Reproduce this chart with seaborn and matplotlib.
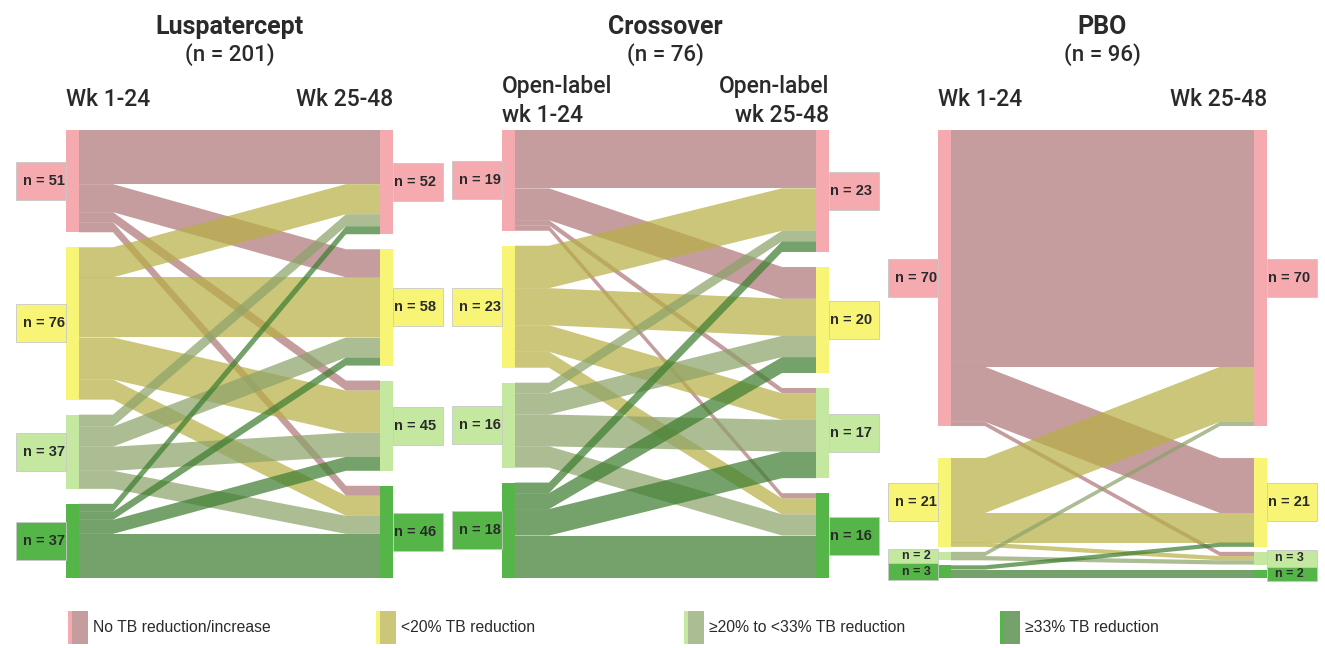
import numpy as np
import matplotlib
matplotlib.use("Agg")
import matplotlib.pyplot as plt
from matplotlib.patches import Polygon, Rectangle
import seaborn as sns

# ---------------- data ----------------
categories = ["No TB reduction/increase", "<20% TB reduction",
              "\u226520% to <33% TB reduction", "\u226533% TB reduction"]
group_names = ["Luspatercept", "Crossover", "PBO"]
left_labels = [["Wk 1-24"], ["Open-label", "wk 1-24"], ["Wk 1-24"]]
right_labels = [["Wk 25-48"], ["Open-label", "wk 25-48"], ["Wk 25-48"]]

# transition counts: rows = category in weeks 1-24, columns = category in weeks 25-48
lusp_flows = [[27, 14, 5, 5],
              [15, 30, 21, 10],
              [6, 10, 12, 9],
              [4, 4, 7, 22]]
cross_flows = [[11, 6, 1, 1],
               [8, 7, 5, 3],
               [2, 4, 6, 4],
               [2, 3, 5, 8]]
pbo_flows = [[56, 13, 1, 0],
             [13, 7, 1, 0],
             [1, 0, 1, 0],
             [0, 1, 0, 2]]
all_flows = [lusp_flows, cross_flows, pbo_flows]

# ---------------- style ----------------
sns.set_theme(style="white")
plt.rcParams["font.family"] = ["Liberation Sans", "DejaVu Sans"]
head_font = ["Roboto", "Liberation Sans", "DejaVu Sans"]

strip_colors = ["#F5AAAF", "#F8F576", "#C4E8A0", "#55B548"]
flow_colors = ["#B0777A", "#B7B045", "#8DA269", "#3E7E30"]
flow_alpha = 0.72
text_color = "#2a2a2a"

W, H = 1325, 648
fig = plt.figure(figsize=(W / 100, H / 100), dpi=100)
fig.patch.set_facecolor("white")

top_px, bot_px = 130, 578
strip_w = 13
box_w = 50
bend = 34
layout = [dict(x0=66, x1=393, gaps=[15, 15, 15]),
          dict(x0=502, x1=829, gaps=[15, 15, 15]),
          dict(x0=938, x1=1267, gaps=[32, 5, 5])]


def fx(px):
    return px / W


def fy(py):
    return 1 - py / H


for p, (flows, lay) in enumerate(zip(all_flows, layout)):
    F = np.array(flows, dtype=float)
    left_tot = F.sum(axis=1)
    right_tot = F.sum(axis=0)
    N = F.sum()
    x0, x1, gaps = lay["x0"], lay["x1"], lay["gaps"]
    avail = (bot_px - top_px) - sum(gaps)
    upp = N / avail  # patient units per pixel
    gaps_u = [g * upp for g in gaps]
    pad = 20
    ax_l, ax_r = x0 - box_w - 5, x1 + box_w + 5
    ax = fig.add_axes([fx(ax_l), fy(bot_px + pad), (ax_r - ax_l) / W,
                       (bot_px - top_px + 2 * pad) / H])
    ax.set_xlim(ax_l, ax_r)
    ax.set_ylim(N + sum(gaps_u) + pad * upp, -pad * upp)
    ax.axis("off")

    lstart = [left_tot[:i].sum() + sum(gaps_u[:i]) for i in range(4)]
    rstart = [right_tot[:j].sum() + sum(gaps_u[:j]) for j in range(4)]

    xl, xr = x0 + strip_w, x1 - strip_w
    soff = list(lstart)
    toff = list(rstart)
    polys = []
    for i in range(4):
        for j in range(4):
            v = F[i, j]
            if v <= 0:
                continue
            ys, yt = soff[i], toff[j]
            pts = [(xl, ys), (xl + bend, ys), (xr - bend, yt), (xr, yt),
                   (xr, yt + v), (xr - bend, yt + v), (xl + bend, ys + v), (xl, ys + v)]
            polys.append((i, pts))
            soff[i] += v
            toff[j] += v
    for i, pts in polys:
        ax.add_patch(Polygon(pts, closed=True, facecolor=flow_colors[i],
                             alpha=flow_alpha, edgecolor="none", zorder=2))

    # nodes + label boxes
    for side, starts, tots in (("L", lstart, left_tot), ("R", rstart, right_tot)):
        for k in range(4):
            y0, h = starts[k], tots[k]
            col = strip_colors[k]
            sx = x0 if side == "L" else x1 - strip_w
            ax.add_patch(Rectangle((sx, y0), strip_w, h, facecolor=col,
                                   edgecolor="none", zorder=3))
            bh_px = max(min(38, h / upp + 4), 14)
            bh = bh_px * upp
            cy = y0 + h / 2
            bx = x0 - box_w if side == "L" else x1
            ax.add_patch(Rectangle((bx, cy - bh / 2), box_w, bh, facecolor=col,
                                   edgecolor="#c8c8c8", linewidth=0.6, zorder=3))
            fs = 10.5 if bh_px > 20 else 9
            tx = bx + box_w / 2 + (3 if side == "L" else -3)
            ax.text(tx, cy, f"n = {int(h)}", ha="center", va="center",
                    fontsize=fs, fontweight="bold", color=text_color, zorder=4)

    cx = (x0 + x1) / 2
    fig.text(fx(cx), fy(27), group_names[p], ha="center", va="center",
             fontsize=18, fontweight="bold", color=text_color, family=head_font)
    fig.text(fx(cx), fy(55), f"(n = {int(N)})", ha="center", va="center",
             fontsize=16, fontweight="medium", color=text_color, family=head_font)
    for labs, xpos, ha in ((left_labels[p], x0, "left"), (right_labels[p], x1, "right")):
        ys = [99] if len(labs) == 1 else [86, 115]
        for lab, yy in zip(labs, ys):
            fig.text(fx(xpos), fy(yy), lab, ha=ha, va="center",
                     fontsize=16.5, fontweight="medium", color=text_color,
                     family=head_font)

# ---------------- legend ----------------
lax = fig.add_axes([0, 0, 1, 1], zorder=-1)
lax.set_xlim(0, W)
lax.set_ylim(H, 0)
lax.axis("off")
leg_x = [68, 376, 684, 1000]
for k, lab in enumerate(categories):
    lx = leg_x[k]
    lax.add_patch(Rectangle((lx, 611), 20, 33, facecolor=flow_colors[k],
                            alpha=flow_alpha, edgecolor="none"))
    lax.add_patch(Rectangle((lx, 611), 4, 33, facecolor=strip_colors[k],
                            edgecolor="none"))
    lax.text(lx + 25, 628, lab, ha="left", va="center", fontsize=11.3,
             color=text_color)

fig.savefig("out.png", dpi=100, facecolor="white")
